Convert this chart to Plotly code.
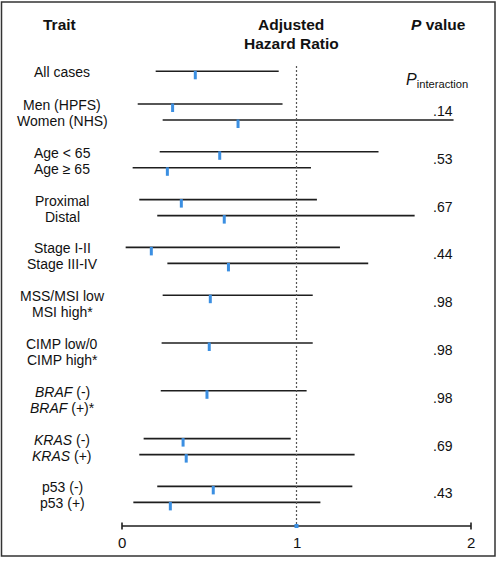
import plotly.graph_objects as go

# ---- data ----
labels = ["All cases", "Men (HPFS)", "Women (NHS)", "Age < 65", "Age ≥ 65",
          "Proximal", "Distal", "Stage I-II", "Stage III-IV",
          "MSS/MSI low", "MSI high*", "CIMP low/0", "CIMP high*",
          "<i>BRAF</i> (-)", "<i>BRAF</i> (+)*", "<i>KRAS</i> (-)", "<i>KRAS</i> (+)",
          "p53 (-)", "p53 (+)"]
hazard_ratio = [0.42, 0.29, 0.665, 0.56, 0.26, 0.34, 0.586, 0.168, 0.61,
                0.506, None, 0.50, None, 0.487, None, 0.35, 0.368, 0.523, 0.277]
ci_lower = [0.193, 0.09, 0.233, 0.216, 0.061, 0.099, 0.202, 0.021, 0.26,
            0.233, None, 0.227, None, 0.222, None, 0.124, 0.099, 0.202, 0.065]
ci_upper = [0.898, 0.92, 1.90, 1.47, 1.083, 1.117, 1.677, 1.249, 1.411,
            1.093, None, 1.093, None, 1.058, None, 0.967, 1.333, 1.32, 1.137]
group_of_row = [0, 1, 1, 2, 2, 3, 3, 4, 4, 5, 5, 6, 6, 7, 7, 8, 8, 9, 9]
item_in_group = [0, 0, 1, 0, 1, 0, 1, 0, 1, 0, 1, 0, 1, 0, 1, 0, 1, 0, 1]
p_interaction = [".14", ".53", ".67", ".44", ".98", ".98", ".98", ".69", ".43"]
x_ticks = [0, 1, 2]

# ---- layout helpers (vertical layout in pixel-like units) ----
W, H = 500, 564
def row_y(g, i):
    if g == 0:
        return 71.3
    return 104 + (g - 1) * 47.8 + i * 16

AXIS_Y = 526
FONT = "Liberation Sans, Arial, Helvetica, sans-serif"
BLUE = "#3b8fe2"

fig = go.Figure()

cx, cy = [], []
mx, my = [], []
for k in range(len(labels)):
    y = row_y(group_of_row[k], item_in_group[k])
    if ci_lower[k] is not None:
        cx += [ci_lower[k], ci_upper[k], None]
        cy += [y, y, None]
    if hazard_ratio[k] is not None:
        mx += [hazard_ratio[k], hazard_ratio[k], None]
        my += [y - 0.5, y + 8, None]

fig.add_trace(go.Scatter(x=cx, y=cy, mode="lines",
                         line=dict(color="#1e1e1e", width=1.6),
                         hoverinfo="skip", showlegend=False))

# reference dotted line at HR = 1
fig.add_trace(go.Scatter(x=[1, 1], y=[66, AXIS_Y], mode="lines",
                         line=dict(color="#555555", width=1.2, dash="2px,2px"),
                         hoverinfo="skip", showlegend=False))

# x axis line with end ticks
fig.add_trace(go.Scatter(x=[x_ticks[0], x_ticks[-1], None, x_ticks[0], x_ticks[0], None,
                            x_ticks[-1], x_ticks[-1]],
                         y=[AXIS_Y, AXIS_Y, None, AXIS_Y - 3.5, AXIS_Y + 3.5, None,
                            AXIS_Y - 3.5, AXIS_Y + 3.5],
                         mode="lines", line=dict(color="#1e1e1e", width=1.6),
                         hoverinfo="skip", showlegend=False))

# point estimate markers
fig.add_trace(go.Scatter(x=mx, y=my, mode="lines",
                         line=dict(color=BLUE, width=3),
                         hoverinfo="skip", showlegend=False))

# blue marker at 1 on the axis
fig.add_trace(go.Scatter(x=[1], y=[AXIS_Y], mode="markers",
                         marker=dict(symbol="square", size=4, color=BLUE),
                         hoverinfo="skip", showlegend=False))

ann = []
for k, lab in enumerate(labels):
    y = row_y(group_of_row[k], item_in_group[k]) + 1
    ann.append(dict(x=62, y=y, xref="x2", yref="y", text=lab, showarrow=False,
                    xanchor="center", yanchor="middle",
                    font=dict(family=FONT, size=14, color="#111111")))
for g, p in enumerate(p_interaction, start=1):
    y = (row_y(g, 0) + row_y(g, 1)) / 2 - 1
    ann.append(dict(x=443, y=y, xref="x2", yref="y", text=p, showarrow=False,
                    xanchor="center", yanchor="middle",
                    font=dict(family=FONT, size=14, color="#111111")))
for t in x_ticks:
    ann.append(dict(x=t, y=542, xref="x", yref="y", text=str(t), showarrow=False,
                    xanchor="center", yanchor="middle",
                    font=dict(family=FONT, size=15, color="#111111")))
hdr = dict(family=FONT, size=15.5, color="#111111")
ann += [
    dict(x=59, y=24, xref="x2", yref="y", text="<b>Trait</b>", showarrow=False,
         xanchor="center", yanchor="middle", font=hdr),
    dict(x=291, y=24, xref="x2", yref="y", text="<b>Adjusted</b>", showarrow=False,
         xanchor="center", yanchor="middle", font=hdr),
    dict(x=291, y=43.5, xref="x2", yref="y", text="<b>Hazard Ratio</b>", showarrow=False,
         xanchor="center", yanchor="middle", font=hdr),
    dict(x=438, y=24, xref="x2", yref="y", text="<b><i>P</i> value</b>", showarrow=False,
         xanchor="center", yanchor="middle", font=hdr),
    dict(x=437, y=80, xref="x2", yref="y", text="<i>P</i><sub>interaction</sub>",
         showarrow=False, xanchor="center", yanchor="middle",
         font=dict(family=FONT, size=16, color="#111111")),
]

px_per_unit = 174.5
x0_px = 122
xmin = -x0_px / px_per_unit
xmax = xmin + W / px_per_unit

fig.update_layout(
    width=W, height=H,
    margin=dict(l=0, r=0, t=0, b=0),
    paper_bgcolor="white", plot_bgcolor="white",
    xaxis=dict(range=[xmin, xmax], visible=False, fixedrange=True),
    xaxis2=dict(range=[0, W], visible=False, overlaying="x", fixedrange=True),
    yaxis=dict(range=[H, 0], visible=False, fixedrange=True),
    annotations=ann,
    shapes=[dict(type="rect", xref="paper", yref="paper",
                 x0=1.5 / W, x1=495 / W, y0=1 - 556 / H, y1=1 - 2 / H,
                 line=dict(color="#333333", width=1.5))],
    showlegend=False,
)

fig.write_html("out.html", config={"staticPlot": True},
               post_script="document.body.style.margin='0';document.body.style.overflow='hidden';")
